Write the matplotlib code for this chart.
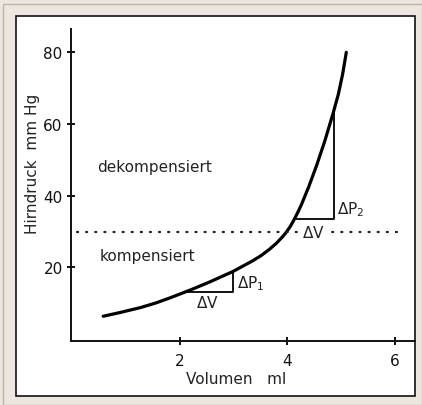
import numpy as np
import matplotlib
matplotlib.use('Agg')
from matplotlib import pyplot
from matplotlib.patches import Rectangle

# pressure-volume curve (dense enough to look smooth)
volume = [0.57, 0.9, 1.26, 1.55, 1.81, 2.19, 2.56, 2.99, 3.36, 3.52, 3.67, 3.80, 3.92,
          3.99, 4.05, 4.10, 4.14, 4.20, 4.26, 4.40, 4.55, 4.70, 4.85, 4.95, 5.03, 5.10]
pressure = [6.4, 7.5, 8.8, 10.1, 11.5, 13.7, 16.0, 18.9, 21.9, 23.4, 25.1, 26.8, 28.7,
            30.0, 31.3, 32.6, 33.7, 35.5, 37.4, 42.5, 48.6, 55.3, 62.8, 68.2, 73.8, 80.0]

# the two compliance triangles: (v_left, v_right, p_low, p_high)
tri_1 = [2.15, 2.99, 13.3, 19.0]
tri_2 = [4.13, 4.87, 33.5, 63.0]
threshold = 30

x_ticks = [2, 4, 6]
y_ticks = [20, 40, 60, 80]

W, H = 422, 406
fig = pyplot.figure(figsize=(W / 100, H / 100), dpi=100)
fig.patch.set_facecolor('#ece6de')
# outer grey edge and white panel with black border
fig.patches.append(Rectangle((3 / W, 0), 1 - 3 / W, 1 - 5 / H, transform=fig.transFigure,
                             facecolor='none', edgecolor='#b8b4ae', linewidth=1.0, zorder=-2))
fig.patches.append(Rectangle((16 / W, 1 - 397 / H), 399 / W, 380 / H, transform=fig.transFigure,
                             facecolor='white', edgecolor='#111111', linewidth=1.2, zorder=-1))

ax = fig.add_axes([71 / W, 1 - 342 / H, (415 - 71) / W, (342 - 30) / H])
ax.set_facecolor('none')
ax.set_xlim(-0.03, 6.38)
ax.set_ylim(-0.5, 86.5)
for s in ['top', 'right']:
    ax.spines[s].set_visible(False)
for s in ['left', 'bottom']:
    ax.spines[s].set_linewidth(1.4)
    ax.spines[s].set_color('#111111')

ax.set_xticks(x_ticks)
ax.set_yticks(y_ticks)
ax.tick_params(direction='inout', length=6, width=1.4, labelsize=11, pad=3, colors='#111111')
ax.tick_params(axis='x', pad=6)

ax.plot(volume, pressure, color='black', linewidth=2.3,
        solid_capstyle='round', solid_joinstyle='round')

# threshold line
ax.plot([0.09, 6.1], [threshold, threshold], linestyle=(0, (0.5, 3.6)), color='#222222',
        linewidth=1.6, dash_capstyle='round')

for t in [tri_1, tri_2]:
    ax.plot([t[0], t[1], t[1]], [t[2], t[2], t[3]], color='black', linewidth=1.3)

txt = dict(color='#222222', fontsize=11)
ax.text(0.45, 48.2, 'dekompensiert', va='center', ha='left', **txt)
ax.text(0.51, 23.4, 'kompensiert', va='center', ha='left', **txt)
ax.text(3.07, 15.9, r'$\mathit{\Delta}$P$_1$', va='center', ha='left', **txt)
ax.text(2.52, 10.4, r'$\mathit{\Delta}$V', va='center', ha='center', **txt)
ax.text(4.93, 36.5, r'$\mathit{\Delta}$P$_2$', va='center', ha='left', **txt)
ax.text(4.49, 30.0, r'$\mathit{\Delta}$V', va='center', ha='center',
        bbox=dict(facecolor='white', edgecolor='none', pad=0.5), **txt)

fig.text(33 / W, 1 - 164 / H, 'Hirndruck  mm Hg', rotation=90, va='center', ha='center', **txt)
fig.text(236 / W, 1 - 380 / H, 'Volumen   ml', va='center', ha='center', **txt)

pyplot.savefig('out.png', dpi=100, facecolor=fig.get_facecolor())
pyplot.close()
